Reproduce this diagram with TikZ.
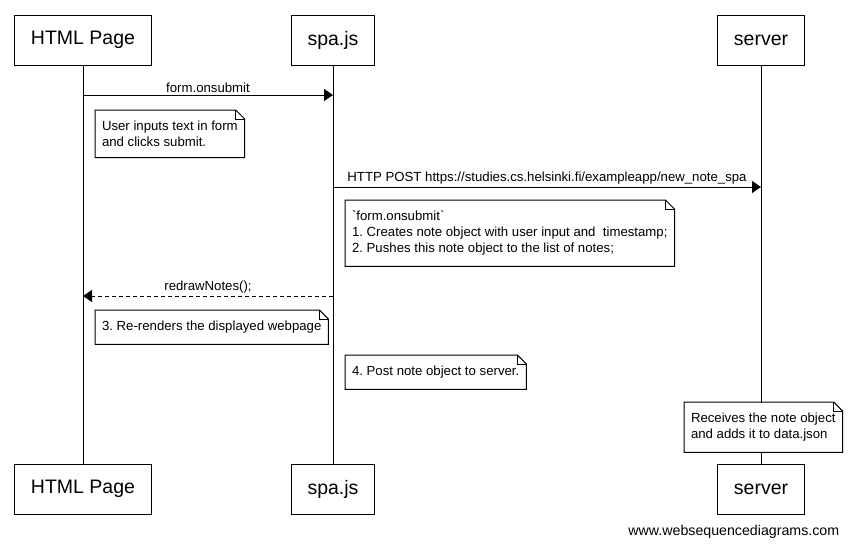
\documentclass[tikz,border=0pt]{standalone}
\usepackage{fontspec}
\setmainfont{Liberation Sans}[Ligatures=TeXOff]
\usetikzlibrary{arrows.meta}
\frenchspacing

\tikzset{
  actor/.style={draw, fill=white, minimum height=50pt, inner xsep=16pt, font=\fontsize{19.5}{24}\selectfont},
  msg/.style={-{Triangle[length=9pt,width=12pt]}},
  reply/.style={msg, dash pattern=on 4pt off 3pt},
  memo/.style={anchor=north west, fill=white, align=left, inner xsep=6.5pt, inner ysep=10.5pt, font=\fontsize{13.2}{16}\selectfont},
  lbl/.style={above, inner sep=2pt, font=\fontsize{13.2}{16}\selectfont}
}
% folded corner round a note node
\newcommand{\dogear}[1]{%
  \draw (#1.north west) -- ([xshift=-9pt]#1.north east) -- ([yshift=-9pt]#1.north east)
    -- (#1.south east) -- (#1.south west) -- cycle;
  \draw ([xshift=-9pt]#1.north east) |- ([yshift=-9pt]#1.north east);
}

\begin{document}
\begin{tikzpicture}[x=1pt,y=-1pt,line width=1pt]
\useasboundingbox (0,0) rectangle (848,547);

    % participants
    \node[actor] (html) at (83,40) {HTML Page};
    \node[actor] (spa) at (333,40) {spa.js};
    \node[actor] (srv) at (761,40) {server};
    \node[actor] (htmlb) at (83,489) {HTML Page};
    \node[actor] (spab) at (333,489) {spa.js};
    \node[actor] (srvb) at (761,489) {server};

    % lifelines
    \draw (html) -- (htmlb);
    \draw (spa) -- (spab);
    \draw (srv) -- (srvb);

    % message ends
    \coordinate (h1) at (83,95);
    \coordinate (s1) at (333,95);
    \coordinate (s2) at (333,187);
    \coordinate (v2) at (761,187);
    \coordinate (s3) at (333,296);
    \coordinate (h3) at (83,296);

    % draw the arrows
    \draw[msg] (h1) -- node[lbl] {form.onsubmit} (s1);
    \draw[msg] (s2) -- node[lbl] {HTTP POST https://studies.cs.helsinki.fi/exampleapp/new\_note\_spa} (v2);
    \draw[reply] (s3) -- node[lbl] {redrawNotes();} (h3);

    % notes
    \node[memo] (n1) at (95,110) {User inputs text in form\\and clicks submit.};
    \dogear{n1}
    \node[memo] (n2) at (345,200) {`form.onsubmit`\\1. Creates note object with user input and\ \ timestamp;\\2. Pushes this note object to the list of notes;};
    \dogear{n2}
    \node[memo] (n3) at (95,310) {3. Re-renders the displayed webpage};
    \dogear{n3}
    \node[memo] (n4) at (345,355) {4. Post note object to server.};
    \dogear{n4}
    \node[memo] (n5) at (684,402) {Receives the note object\\and adds it to data.json};
    \dogear{n5}

    \node[anchor=east, font=\fontsize{14.2}{17}\selectfont] (site) at (843,532) {www.websequencediagrams.com};

\end{tikzpicture}
\end{document}
